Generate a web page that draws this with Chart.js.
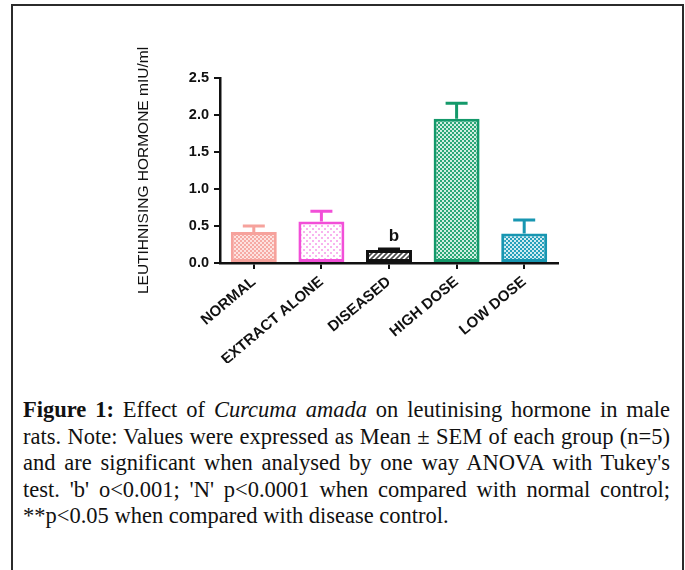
<!DOCTYPE html>
<html>
<head>
<meta charset="utf-8">
<script src="https://cdn.jsdelivr.net/npm/chart.js@4.4.0/dist/chart.umd.min.js"></script>
<style>
  html, body { margin: 0; padding: 0; background: #fff; }
  body { width: 685px; height: 570px; position: relative; overflow: hidden; }
  #frame {
    position: absolute; left: 11px; top: 4px; width: 673px; height: 620px;
    box-sizing: border-box; border: 2px solid #2b2b2b;
  }
  #chart { position: absolute; left: 0; top: 0; }
  #caption {
    position: absolute; left: 23px; top: 397px; width: 647px;
    font-family: "Liberation Serif", "Times New Roman", serif;
    font-size: 22.5px; line-height: 26.5px; color: #111;
  }
  #caption div { white-space: nowrap; text-align: justify; text-align-last: justify; }
  #caption div.last { text-align: left; text-align-last: left; }
</style>
</head>
<body>
<div id="frame"></div>
<canvas id="chart" width="685" height="380"></canvas>
<div id="caption">
  <div><b>Figure 1:</b> Effect of <i>Curcuma amada</i> on leutinising hormone in male</div>
  <div>rats. Note: Values were expressed as Mean ± SEM of each group (n=5)</div>
  <div>and are significant when analysed by one way ANOVA with Tukey's</div>
  <div>test. 'b' o&lt;0.001; 'N' p&lt;0.0001 when compared with normal control;</div>
  <div class="last">**p&lt;0.05 when compared with disease control.</div>
</div>
<script>
const groups = ['NORMAL', 'EXTRACT ALONE', 'DISEASED', 'HIGH DOSE', 'LOW DOSE'];
const means = [0.42, 0.56, 0.175, 1.95, 0.40];
const sems = [0.08, 0.14, 0.015, 0.21, 0.18];
const marks = ['', '', 'b', '', ''];
const yTicks = [0, 0.5, 1.0, 1.5, 2.0, 2.5];

const strokes = ['#f6a29c', '#f24fd8', '#111111', '#14996a', '#1896b1'];

// small tile patterns like the prism fills
function makeTile(size, draw) {
  const c = document.createElement('canvas');
  c.width = size; c.height = size;
  const g = c.getContext('2d');
  draw(g, size);
  return document.getElementById('chart').getContext('2d').createPattern(c, 'repeat');
}
function checker(light, dark) {
  return makeTile(4, (g) => {
    g.fillStyle = light; g.fillRect(0, 0, 4, 4);
    g.fillStyle = dark; g.fillRect(0, 0, 2, 2); g.fillRect(2, 2, 2, 2);
  });
}
const fills = [
  checker('#fde2df', '#f6aaa4'),
  makeTile(6, (g) => {
    g.fillStyle = '#ffffff'; g.fillRect(0, 0, 6, 6);
    g.fillStyle = '#f8b3ee'; g.fillRect(0, 0, 2, 2); g.fillRect(3, 3, 2, 2);
  }),
  makeTile(5, (g) => {
    g.fillStyle = '#ffffff'; g.fillRect(0, 0, 5, 5);
    g.strokeStyle = '#4a4a4a'; g.lineWidth = 1.6;
    g.beginPath();
    g.moveTo(-1, 6); g.lineTo(6, -1);
    g.moveTo(-1, 1); g.lineTo(1, -1);
    g.moveTo(4, 6); g.lineTo(6, 4);
    g.stroke();
  }),
  checker('#d2eee1', '#2ba777'),
  checker('#d0ebf2', '#27a0bb')
];

const errorBars = {
  id: 'errorBars',
  afterDatasetsDraw(chart) {
    const ctx = chart.ctx;
    const y = chart.scales.y;
    const meta = chart.getDatasetMeta(0);
    ctx.save();
    meta.data.forEach((bar, i) => {
      const top = y.getPixelForValue(means[i] + sems[i]);
      const half = 11;
      ctx.strokeStyle = strokes[i];
      ctx.lineWidth = 3;
      ctx.beginPath();
      ctx.moveTo(bar.x, bar.y);
      ctx.lineTo(bar.x, top);
      ctx.moveTo(bar.x - half, top);
      ctx.lineTo(bar.x + half, top);
      ctx.stroke();
      if (marks[i]) {
        ctx.fillStyle = '#111';
        ctx.font = 'bold 17px "Liberation Sans", Arial, sans-serif';
        ctx.textAlign = 'center';
        ctx.textBaseline = 'alphabetic';
        ctx.fillText(marks[i], bar.x + 5, top - 8);
      }
    });
    ctx.restore();
  }
};

new Chart(document.getElementById('chart'), {
  type: 'bar',
  data: {
    labels: groups,
    datasets: [{
      data: means,
      backgroundColor: fills,
      borderColor: strokes,
      borderWidth: 3,
      borderSkipped: false,
      barPercentage: 0.68,
      categoryPercentage: 1.0
    }]
  },
  options: {
    responsive: false,
    devicePixelRatio: 1,
    animation: false,
    layout: { padding: { left: 134, top: 78, right: 127, bottom: 17 } },
    plugins: { legend: { display: false }, tooltip: { enabled: false } },
    scales: {
      x: {
        afterFit(scale) { scale.height = 100; },
        grid: { drawOnChartArea: false, offset: false, tickLength: 6, color: '#111', lineWidth: 2 },
        border: { color: '#111', width: 2.5 },
        ticks: {
          minRotation: 40, maxRotation: 40, padding: 4, color: '#111',
          font: { family: '"Liberation Sans", Arial, sans-serif', size: 15, weight: 'bold' }
        }
      },
      y: {
        min: 0, max: 2.5,
        afterFit(scale) { scale.width = 86; },
        afterBuildTicks(scale) { scale.ticks = yTicks.map(v => ({ value: v })); },
        grid: { drawOnChartArea: false, tickLength: 6, color: '#111', lineWidth: 2 },
        border: { color: '#111', width: 2.5 },
        title: {
          display: true, text: 'LEUTIHNISING HORMONE mIU/ml', color: '#111', padding: 0,
          font: { family: '"Liberation Sans", Arial, sans-serif', size: 15.5, weight: 'normal' }
        },
        ticks: {
          padding: 5, color: '#111',
          callback: (v) => Number(v).toFixed(1),
          font: { family: '"Liberation Sans", Arial, sans-serif', size: 14.5, weight: 'bold' }
        }
      }
    }
  },
  plugins: [errorBars]
});
</script>
</body>
</html>
